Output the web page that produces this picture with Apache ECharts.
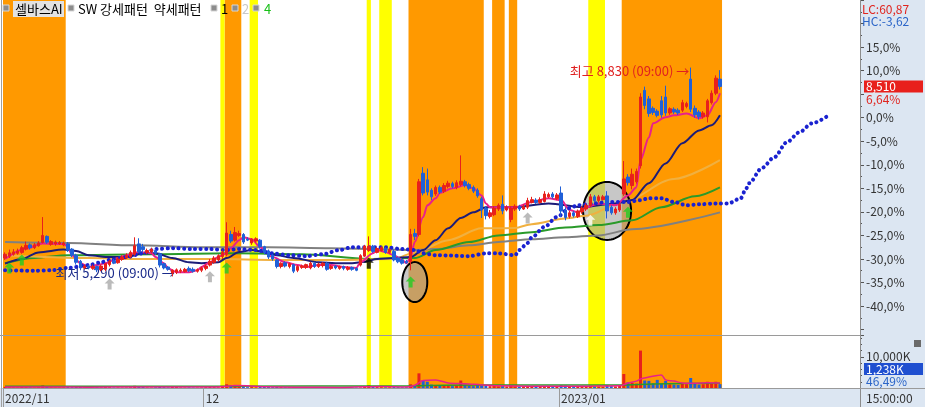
<!DOCTYPE html>
<html><head><meta charset="utf-8">
<script src="https://cdn.jsdelivr.net/npm/echarts@6/dist/echarts.min.js"></script>
<style>html,body{margin:0;padding:0;background:#fff;}#c{width:925px;height:407px;}</style>
</head><body><div id="c"></div>
<script>
// ---------------- DATA ----------------
const categories = Array.from({length: 205}, (_, i) => 'P' + i);
const monthTicks = {0: '2022/11', 48: '12', 133: '2023/01'};
const basePrice = 7980;      // 0.0% reference price
const lastPrice = 8510;
const lowPrice = 5290, lowTime = '09:00';
const highPrice = 8830, highTime = '09:00';
const lcText = 'LC:60,87', hcText = 'HC:-3,62';
const lastVolText = '1,238K', volPctText = '46,49%';
const timeText = '15:00:00';

// candles in % vs basePrice: [open, close, low, high]
const candles = [
[-29.8,-29.0,-30.2,-28.6],[-29.4,-28.7,-29.8,-28.0],[-29.0,-28.5,-29.3,-27.9],[-28.8,-28.3,-29.1,-27.8],
[-28.6,-27.6,-28.9,-27.2],[-27.9,-27.1,-28.2,-26.3],[-27.0,-27.6,-28.0,-26.7],[-27.6,-27.0,-27.9,-26.6],
[-27.2,-26.6,-27.4,-26.2],[-26.5,-25.0,-26.7,-21.1],[-25.2,-26.4,-26.8,-25.0],[-26.9,-26.3,-27.2,-26.0],
[-26.8,-26.4,-27.2,-26.1],[-26.8,-26.5,-27.0,-26.2],[-27.0,-26.6,-27.3,-26.3],[-26.8,-28.1,-28.5,-26.4],
[-27.9,-29.2,-29.6,-27.7],[-29.2,-30.7,-31.2,-28.9],[-30.5,-31.9,-32.4,-30.2],[-31.9,-31.5,-32.2,-31.2],
[-31.5,-31.9,-32.2,-31.3],[-32.0,-31.6,-32.3,-31.2],[-31.6,-32.3,-32.8,-31.4],[-32.3,-31.5,-32.6,-31.2],
[-32.2,-31.0,-32.6,-30.8],[-31.2,-30.5,-31.6,-30.2],[-30.4,-30.9,-31.1,-30.0],[-30.8,-30.0,-31.0,-29.6],
[-30.1,-29.6,-30.4,-29.2],[-29.8,-29.3,-30.0,-28.8],[-29.5,-28.6,-29.8,-28.2],[-29.0,-27.2,-29.3,-25.4],
[-26.8,-28.5,-28.8,-25.6],[-27.4,-28.0,-28.6,-26.8],[-28.6,-28.2,-29.0,-27.8],[-28.4,-28.0,-28.8,-27.6],
[-28.2,-28.8,-29.2,-27.9],[-28.9,-31.3,-31.8,-28.7],[-31.0,-31.9,-32.2,-30.8],[-31.7,-32.2,-32.5,-31.5],
[-33.0,-32.4,-33.7,-32.2],[-32.8,-32.3,-33.2,-32.0],[-32.6,-32.4,-33.0,-32.0],[-32.7,-32.2,-32.9,-31.9],
[-32.0,-32.5,-32.8,-31.6],[-32.2,-32.6,-32.9,-31.8],[-32.6,-32.3,-32.9,-32.0],[-32.4,-31.9,-32.8,-31.6],
[-32.0,-31.5,-32.4,-31.2],[-31.3,-30.5,-31.6,-30.0],[-30.7,-29.8,-31.0,-29.4],[-30.2,-29.3,-30.5,-29.0],
[-29.5,-28.6,-30.0,-28.2],[-29.0,-24.5,-29.4,-22.2],[-24.8,-26.2,-26.6,-24.0],[-26.0,-24.4,-26.3,-23.2],
[-25.0,-24.6,-25.3,-24.0],[-24.8,-26.4,-26.8,-24.5],[-25.8,-26.0,-26.2,-25.4],[-26.6,-25.8,-27.0,-25.6],
[-26.2,-25.7,-26.5,-25.4],[-26.0,-27.4,-27.8,-25.8],[-27.4,-28.6,-29.0,-27.2],[-28.3,-29.6,-30.0,-28.0],
[-29.2,-30.0,-30.4,-29.0],[-30.2,-31.6,-32.0,-30.0],[-31.6,-30.9,-32.0,-30.7],[-30.8,-31.5,-31.8,-30.5],
[-31.6,-31.0,-32.0,-30.8],[-31.2,-32.6,-33.0,-31.0],[-32.4,-31.6,-32.8,-31.3],[-31.8,-31.5,-32.1,-31.2],
[-31.8,-31.2,-32.1,-31.0],[-31.9,-30.9,-32.2,-30.6],[-30.9,-31.6,-31.9,-30.6],[-31.6,-31.1,-31.9,-30.8],
[-31.4,-30.9,-31.8,-30.7],[-30.9,-32.2,-32.5,-30.6],[-32.0,-31.6,-32.3,-31.3],[-31.5,-31.9,-32.2,-31.3],
[-32.0,-31.6,-32.3,-31.4],[-31.6,-32.0,-32.4,-31.4],[-32.2,-31.8,-32.5,-31.5],[-31.8,-32.2,-32.5,-31.6],
[-32.0,-32.4,-32.6,-31.8],[-31.3,-29.3,-31.6,-29.0],[-29.4,-27.3,-29.6,-27.0],[-28.2,-27.3,-28.5,-25.2],
[-27.3,-28.4,-28.7,-27.0],[-28.6,-27.8,-28.8,-27.5],[-28.2,-27.6,-28.4,-27.3],[-27.8,-28.6,-28.9,-27.5],
[-28.6,-28.0,-28.9,-27.7],[-28.4,-30.2,-30.5,-28.0],[-29.8,-30.6,-30.9,-29.5],[-30.2,-30.9,-31.2,-29.8],
[-30.5,-30.8,-31.0,-30.2],[-30.6,-24.8,-32.4,-23.6],[-24.6,-25.2,-26.0,-23.6],[-24.8,-13.6,-25.2,-13.0],
[-11.8,-16.0,-16.5,-10.5],[-13.2,-15.8,-16.5,-10.8],[-15.4,-16.8,-17.5,-15.0],[-16.2,-14.8,-16.6,-14.4],
[-14.8,-15.8,-16.2,-14.4],[-15.6,-14.4,-16.0,-13.9],[-14.6,-13.9,-15.0,-13.4],[-14.0,-14.6,-15.0,-13.6],
[-14.8,-13.8,-15.2,-13.3],[-14.2,-13.5,-14.6,-8.0],[-13.6,-14.4,-14.8,-13.2],[-14.2,-15.0,-15.4,-13.8],
[-14.8,-15.6,-16.0,-14.4],[-15.4,-16.6,-17.0,-15.0],[-17.2,-19.6,-21.3,-16.8],[-19.2,-20.8,-21.6,-18.8],
[-21.0,-20.2,-21.4,-19.6],[-20.6,-19.2,-20.9,-18.8],[-19.4,-18.6,-19.8,-18.2],[-18.4,-19.8,-20.5,-16.5],
[-19.6,-19.0,-19.9,-18.6],[-21.6,-19.2,-22.2,-18.8],[-19.4,-18.8,-19.8,-18.4],[-18.8,-19.4,-19.8,-18.5],
[-19.4,-18.9,-19.6,-18.4],[-19.0,-17.6,-19.4,-17.0],[-18.0,-17.4,-18.2,-16.8],[-17.5,-18.0,-18.3,-17.1],
[-18.0,-17.4,-18.3,-16.9],[-17.8,-16.2,-18.0,-15.6],[-16.8,-16.3,-17.1,-15.9],[-16.2,-16.8,-17.2,-15.8],
[-17.2,-16.4,-17.5,-16.0],[-16.0,-19.8,-21.1,-14.6],[-19.6,-21.2,-21.8,-19.0],[-21.0,-20.2,-21.4,-19.8],
[-20.2,-20.8,-21.2,-19.8],[-21.0,-19.8,-21.3,-19.5],[-20.0,-19.2,-20.4,-18.8],[-19.4,-18.6,-19.8,-18.2],
[-18.6,-16.8,-19.0,-16.2],[-16.8,-17.6,-18.0,-16.4],[-17.6,-16.8,-18.0,-16.4],[-17.4,-16.8,-17.6,-16.4],
[-16.6,-19.8,-21.4,-15.6],[-19.0,-20.2,-20.6,-18.6],[-20.2,-19.4,-20.6,-19.0],[-19.6,-18.4,-20.0,-18.0],
[-16.2,-13.0,-16.6,-9.2],[-12.6,-13.8,-14.4,-12.0],[-14.4,-12.0,-15.2,-10.8],[-13.6,-11.4,-14.0,-10.8],
[-10.2,4.4,-10.8,5.2],[5.8,2.6,1.8,6.6],[4.0,0.9,0.2,4.6],[2.0,1.1,0.6,2.4],
[1.4,0.5,0.1,1.8],[3.6,0.6,0.0,4.6],[4.4,1.0,0.4,6.8],[1.0,1.9,0.6,2.2],
[1.8,1.2,0.8,2.2],[1.6,1.0,0.6,2.0],[1.6,3.2,1.2,3.8],[2.4,3.0,2.0,3.4],
[8.2,1.8,1.2,10.65],[2.0,0.6,0.0,2.6],[1.2,0.2,-0.4,1.6],[0.2,1.0,-0.2,1.4],
[0.2,3.6,-1.0,4.0],[3.2,5.2,2.8,5.8],[5.2,8.4,4.8,9.0],[8.2,6.64,6.0,10.1]
];

// volume (K shares)
const volumes = [
350,220,180,160,300,260,200,150,240,820,420,200,160,150,180,
300,260,380,420,200,160,140,220,180,260,240,150,180,140,160,220,
700,520,300,180,160,220,380,260,200,420,300,180,160,200,150,140,180,260,
300,280,240,420,1200,900,640,380,
520,260,300,240,360,320,300,260,380,280,220,200,300,260,180,160,200,220,180,160,
240,200,160,150,140,180,160,150,180,640,880,420,300,260,220,240,300,260,220,240,
1200,900,4700,2400,2000,1100,800,700,900,800,600,700,2400,900,700,600,900,1000,
800,600,700,500,600,500,900,500,400,450,600,500,400,450,500,400,450,420,900,800,
500,450,500,600,500,700,500,450,400,900,600,500,700,
4500,1800,1600,1400,12000,2400,2300,1500,2600,1400,2300,1200,1100,1000,1300,1200,3200,1400,1100,1200,2000,1600,2000,1238
];

// moving averages: [barIndex, %]
const ma5 = [[0,-30.0],[5,-27.8],[9,-26.7],[14,-26.8],[15,-27.4],[16,-29.2],[18,-30.9],[20,-31.7],[22,-31.3],[24,-30.9],[27,-29.8],[29,-29.2],[32,-28.5],[35,-28.8],[36,-29.6],[38,-30.9],[39,-32.0],[41,-32.8],[44,-32.8],[46,-32.4],[47,-31.7],[49,-30.7],[51,-29.6],[52,-29.2],[54,-27.7],[56,-26.0],[57,-25.4],[59,-25.8],[61,-27.5],[64,-29.6],[67,-30.7],[70,-31.3],[72,-31.7],[75,-31.3],[78,-31.3],[81,-31.7],[84,-31.9],[85,-30.7],[88,-28.8],[89,-28.1],[91,-28.5],[93,-29.2],[95,-30.2],[96,-30.9],[97,-29.6],[98,-26.4],[100,-21.1],[101,-18.6],[103,-17.1],[104,-16.0],[107,-15.0],[110,-14.3],[112,-15.0],[114,-16.5],[115,-18.2],[116,-19.0],[122,-19.0],[126,-17.9],[130,-17.1],[133,-17.5],[135,-19.6],[137,-20.1],[139,-19.0],[142,-18.2],[146,-18.6],[149,-16.5],[151,-14.8],[152,-9.0],[154,-4.2],[155,-1.2],[158,0.1],[160,0.5],[163,0.9],[166,-0.1],[168,0.5],[170,3.3],[171,5.2]];
const ma20 = [[0,-31.0],[4,-30.0],[8,-28.6],[14,-28.0],[17,-28.3],[20,-29.2],[25,-29.6],[29,-29.6],[33,-28.8],[36,-28.8],[40,-29.8],[44,-30.7],[47,-30.9],[51,-30.7],[53,-29.8],[56,-28.5],[59,-28.1],[62,-28.5],[65,-29.2],[69,-29.8],[75,-30.7],[79,-30.9],[83,-30.9],[86,-30.6],[89,-30.0],[93,-29.8],[97,-29.6],[100,-28.1],[103,-26.0],[106,-23.5],[109,-21.3],[112,-20.1],[115,-19.0],[122,-19.0],[130,-18.2],[138,-19.0],[146,-18.2],[150,-17.5],[154,-13.9],[158,-9.7],[162,-5.4],[166,-2.7],[169,-1.6],[171,0.5]];
const ma60 = [[0,-29.2],[20,-29.8],[30,-30.0],[50,-30.0],[65,-30.2],[80,-30.2],[93,-30.0],[98,-28.6],[106,-26.0],[114,-23.5],[122,-23.4],[126,-22.6],[134,-21.4],[139,-20.8],[148,-17.8],[160,-13.0],[171,-9.0]];
const ma120 = [[0,-30.9],[7,-29.8],[15,-29.2],[35,-29.0],[55,-28.8],[71,-29.0],[87,-30.0],[98,-29.8],[103,-28.1],[111,-26.4],[118,-25.0],[126,-24.3],[134,-23.3],[142,-22.8],[150,-21.8],[157,-19.0],[165,-16.7],[171,-14.8]];
const ma240 = [[0,-26.4],[15,-26.6],[31,-27.1],[47,-27.5],[63,-27.5],[78,-27.7],[98,-28.1],[103,-27.9],[111,-27.1],[118,-26.4],[126,-25.8],[134,-25.4],[142,-25.0],[150,-23.7],[171,-20.1]];
const leadLine = [[0,-32.4],[7,-32.5],[11,-32.4],[15,-31.9],[20,-31.3],[23,-30.7],[25,-30.2],[29,-29.6],[33,-28.8],[36,-27.9],[40,-27.7],[45,-27.9],[49,-27.9],[53,-28.1],[56,-27.9],[60,-28.1],[64,-28.8],[68,-29.2],[72,-29.4],[76,-29.0],[80,-28.1],[83,-27.5],[87,-27.5],[91,-27.5],[95,-27.9],[98,-28.1],[100,-28.8],[103,-29.2],[111,-29.4],[115,-28.8],[118,-28.8],[122,-29.2],[123,-28.1],[125,-26.6],[126,-25.4],[129,-23.2],[132,-21.1],[135,-19.2],[137,-18.6],[141,-18.2],[144,-17.9],[149,-17.9],[152,-17.5],[154,-17.1],[157,-17.1],[160,-17.9],[163,-18.6],[166,-18.4],[170,-18.2],[173,-18.2],[176,-17.1],[177,-15.5],[178,-13.9],[181,-10.7],[184,-8.4],[187,-5.2],[190,-3.1],[193,-1.2],[197,0.5]];
const volMa5 = [[0,300],[10,350],[20,260],[31,350],[40,300],[50,300],[53,600],[55,800],[58,700],[62,400],[70,250],[80,180],[86,400],[90,500],[96,300],[98,900],[100,2400],[103,2600],[106,1600],[110,1400],[114,1000],[118,700],[125,550],[133,550],[140,600],[147,700],[149,1600],[151,2200],[152,2900],[154,3500],[156,4000],[157,4200],[158,2600],[160,2250],[162,1600],[165,1500],[168,1700],[171,1600]];
const volMa20 = [[0,600],[50,600],[96,650],[105,900],[120,950],[147,950],[155,1300],[171,1500]];

// pattern bands (bar index ranges)
const strongBands = [[0,14],[53,56],[97,114],[117,119],[121,122],[148,171]];
const weakBands = [[52,52],[59,60],[87,87],[90,92],[140,143]];
// signal arrows [barIndex, %]
const greenSignals = [[1,-31.9],[4,-30.2],[53,-31.9],[97,-34.9],[149,-20.1]];
const graySignals = [[25,-35.3],[49,-33.8],[125,-21.3]];
const blackSignals = [[87,-30.9]];
const whiteSignals = [[140,-21.8]];
// highlighted pattern zones [barIndex, %]
const patternZones = [[98,-34.9],[144,-19.8]];

// ---------------- STYLE ----------------
const FONT = "'Noto Sans CJK KR','Noto Sans',sans-serif";
const RED = '#e8201c', BLUE = '#2060d8';
const zoneRadii = [[12.5,20],[24,29]];
const arrowPath = 'path://M5 0 L10 5 L7 5 L7 11 L3 11 L3 5 L0 5 Z';
const fmtNum = n => n.toLocaleString('en-US');
const toPct = p => (p / basePrice - 1) * 100;
const isMonthStart = (i) => Object.prototype.hasOwnProperty.call(monthTicks, i);

const chart = echarts.init(document.getElementById('c'), null, {renderer: 'canvas'});

function bandSeries(data, color) {
  return {
    type: 'custom', xAxisIndex: 2, yAxisIndex: 2, z: 1, silent: true, clip: false,
    data: data, encode: {x: [0, 1]},
    renderItem: (params, api) => {
      const p0 = api.coord([api.value(0), 1]);
      const p1 = api.coord([api.value(1) + 1, 0]);
      return {type: 'rect', shape: {x: p0[0], y: p0[1], width: p1[0] - p0[0], height: p1[1] - p0[1]}, style: {fill: color}};
    }
  };
}
function maSeries(data, color, width, z) {
  return {type: 'line', xAxisIndex: 0, yAxisIndex: 0, data: data, symbol: 'none', smooth: 0.3, smoothMonotone: 'x',
    lineStyle: {color: color, width: width}, z: z, silent: true};
}
function signalSeries(data, color) {
  return {type: 'scatter', xAxisIndex: 0, yAxisIndex: 0, data: data, symbol: arrowPath, symbolSize: [10, 11],
    itemStyle: {color: color}, z: 8, silent: true};
}
let hiddenPctLabels = [];
const pctLabel = v => (v > 15 || v < -40 || hiddenPctLabels.indexOf(v) >= 0) ? '' : v.toFixed(1).replace('.', ',') + '%';

const option = {
  animation: false,
  backgroundColor: '#ffffff',
  textStyle: {fontFamily: FONT},
  grid: [
    {left: 3, right: 65, top: -0.5, height: 330.1},
    {left: 3, right: 65, top: 335, height: 53},
    {left: 3, right: 65, top: 0, height: 388}
  ],
  xAxis: [
    {type: 'category', gridIndex: 0, data: categories, boundaryGap: true, show: false},
    {type: 'category', gridIndex: 1, data: categories, boundaryGap: true,
      axisLine: {show: true, lineStyle: {color: '#9a9a9a'}},
      axisTick: {show: true, interval: isMonthStart, length: 19, lineStyle: {color: '#9a9a9a'}},
      axisLabel: {interval: isMonthStart, formatter: (v, i) => monthTicks[i] || '', align: 'left', margin: 4,
        color: '#333', fontSize: 12, fontFamily: FONT},
      splitLine: {show: false}},
    {type: 'value', gridIndex: 2, min: 0, max: categories.length, show: false}
  ],
  yAxis: [
    {type: 'value', gridIndex: 0, position: 'right', min: -45, max: 25, interval: 5,
      axisLine: {show: false},
      axisTick: {show: true, length: 4, lineStyle: {color: '#555'}},
      minorTick: {show: true, splitNumber: 2, length: 2, lineStyle: {color: '#555'}},
      splitLine: {show: false}, minorSplitLine: {show: false},
      axisLabel: {formatter: pctLabel, color: '#333', fontSize: 12, margin: 6, fontFamily: FONT}},
    {type: 'value', gridIndex: 1, position: 'right', min: 0, max: 17000, interval: 10000,
      axisLine: {show: false},
      axisTick: {show: true, length: 4, lineStyle: {color: '#555'}},
      minorTick: {show: true, splitNumber: 5, length: 2, lineStyle: {color: '#555'}},
      splitLine: {show: false},
      axisLabel: {formatter: v => v === 10000 ? '10,000K' : '', color: '#333', fontSize: 12, margin: 6, fontFamily: FONT}},
    {type: 'value', gridIndex: 2, min: 0, max: 1, show: false}
  ],
  series: [
    bandSeries(strongBands, '#ff9900'),
    bandSeries(weakBands, '#ffff00'),
    {type: 'custom', xAxisIndex: 0, yAxisIndex: 0, z: 2, silent: true, clip: false, data: patternZones,
      renderItem: (params, api) => {
        const c = api.coord([api.value(0), api.value(1)]);
        const r = zoneRadii[params.dataIndex];
        const pts = [];
        for (let k = 0; k < 72; k++) { const a = k / 72 * Math.PI * 2; pts.push([c[0] + r[0] * Math.cos(a), c[1] + r[1] * Math.sin(a)]); }
        return {type: 'polygon', shape: {points: pts}, style: {fill: 'rgba(164,164,164,0.61)', stroke: '#000', lineWidth: 2}};
      }},
    maSeries(ma240, '#808080', 2, 3),
    maSeries(ma120, '#2a9a2a', 2, 3),
    maSeries(ma60, '#f0b040', 2, 3),
    maSeries(ma20, '#1c1c78', 2, 4),
    maSeries(ma5, '#e8208c', 2, 4),
    {type: 'line', xAxisIndex: 0, yAxisIndex: 0, data: leadLine, symbol: 'none', smooth: 0.3, smoothMonotone: 'x', z: 4, silent: true,
      lineStyle: {color: '#1a22d0', width: 4, type: [0.1, 5.4], cap: 'round'}},
    {type: 'candlestick', xAxisIndex: 0, yAxisIndex: 0, data: candles, barWidth: 3, z: 5,
      itemStyle: {color: RED, color0: BLUE, borderColor: RED, borderColor0: BLUE, borderWidth: 1},
      markPoint: {symbol: 'circle', symbolSize: 1, itemStyle: {color: 'rgba(0,0,0,0)'}, silent: true,
        data: [
          {coord: [40, toPct(lowPrice)], label: {show: true, position: 'left', distance: 0, offset: [3, -3],
            formatter: '최저 ' + fmtNum(lowPrice) + ' (' + lowTime + ') →', color: '#1a2a8a', fontSize: 13, fontFamily: FONT}},
          {coord: [164, toPct(highPrice)], label: {show: true, position: 'left', distance: 1, offset: [0, 4],
            formatter: '최고 ' + fmtNum(highPrice) + ' (' + highTime + ') →', color: '#e02020', fontSize: 13, fontFamily: FONT}}
        ]}},
    signalSeries(greenSignals, '#22cc22'),
    signalSeries(graySignals, '#aaaaaa'),
    signalSeries(blackSignals, '#000000'),
    signalSeries(whiteSignals, '#ffffff'),
    {type: 'bar', xAxisIndex: 1, yAxisIndex: 1, data: volumes, barWidth: 3, z: 3, silent: true,
      itemStyle: {color: p => candles[p.dataIndex][1] >= candles[p.dataIndex][0] ? RED : BLUE}},
    {type: 'line', xAxisIndex: 1, yAxisIndex: 1, data: volMa20, symbol: 'none', smooth: 0.3, lineStyle: {color: '#2a9a2a', width: 1.5}, z: 4, silent: true},
    {type: 'line', xAxisIndex: 1, yAxisIndex: 1, data: volMa5, symbol: 'none', smooth: 0.3, lineStyle: {color: '#e8208c', width: 1.5}, z: 4, silent: true}
  ]
};
chart.setOption(option);

// ---------------- FRAME / TEXT OVERLAYS ----------------
const T = (x, y, text, color, size) => ({type: 'text', x: x, y: y, z: 100, silent: true,
  style: {text: text, fill: color, fontSize: size || 12, fontFamily: FONT, textVerticalAlign: 'middle', verticalAlign: 'middle'}});
const icon = (x) => ({type: 'rect', z: 100, silent: true, shape: {x: x, y: 5, width: 6, height: 6}, style: {fill: '#8c8c8c', stroke: '#d6d6d6', lineWidth: 1}});

const lastClose = candles[candles.length - 1][1];
const yLast = chart.convertToPixel({yAxisIndex: 0}, lastClose);
// hide axis labels covered by the current-price tag
for (let v = -40; v <= 15; v += 5) {
  const yy = chart.convertToPixel({yAxisIndex: 0}, v);
  if (yy > yLast - 12 && yy < yLast + 20) hiddenPctLabels.push(v);
}

const graphics = [
  {type: 'rect', z: -100, silent: true, shape: {x: 860, y: 0, width: 65, height: 407}, style: {fill: '#dce6f2'}},
  {type: 'rect', z: -100, silent: true, shape: {x: 0, y: 388, width: 860, height: 19}, style: {fill: '#dce6f2'}},
  {type: 'line', z: 90, silent: true, shape: {x1: 860.5, y1: 0, x2: 860.5, y2: 407}, style: {stroke: '#8c8c8c', lineWidth: 1}},
  {type: 'line', z: 90, silent: true, shape: {x1: 0, y1: 335.5, x2: 860, y2: 335.5}, style: {stroke: '#9a9a9a', lineWidth: 1}},
  {type: 'line', z: 90, silent: true, shape: {x1: 860, y1: 388.5, x2: 925, y2: 388.5}, style: {stroke: '#9a9a9a', lineWidth: 1}},
  {type: 'line', z: 90, silent: true, shape: {x1: 1.5, y1: 0, x2: 1.5, y2: 407}, style: {stroke: '#a0a0a0', lineWidth: 1}},
  // header / legend
  icon(3),
  {type: 'rect', z: 99, silent: true, shape: {x: 13, y: 1, width: 51, height: 16}, style: {fill: '#e2e2e2'}},
  T(15, 9, '셀바스AI', '#000', 13),
  icon(68),
  T(78, 9, 'SW 강세패턴  약세패턴', '#000', 13),
  icon(211),
  T(221, 9, '1', '#000', 13),
  icon(232),
  T(242, 9, '2', '#c8c8c8', 13),
  icon(253),
  T(264, 9, '4', '#18c018', 13),
  // right panel texts
  T(862, 9, lcText, '#e0251f'),
  T(862, 21, hcText, '#2b65c8'),
  {type: 'rect', z: 99, silent: true, shape: {x: 864, y: yLast - 6, width: 59, height: 12}, style: {fill: '#e8201c'}},
  T(866, yLast, fmtNum(lastPrice), '#ffffff'),
  T(866, yLast + 13, lastClose.toFixed(2).replace('.', ',') + '%', '#e0251f'),
  {type: 'rect', z: 99, silent: true, shape: {x: 864, y: 363, width: 59, height: 12}, style: {fill: '#1f4fd0'}},
  T(866, 369, lastVolText, '#ffffff'),
  T(866, 381, volPctText, '#2b65c8'),
  {type: 'rect', z: 99, silent: true, shape: {x: 914, y: 340, width: 7, height: 7}, style: {fill: '#6a6a6a'}},
  T(866, 398, timeText, '#333')
];
chart.setOption({yAxis: [{axisLabel: {formatter: pctLabel}}, {}, {}], graphic: {elements: graphics}});
</script>
</body></html>
